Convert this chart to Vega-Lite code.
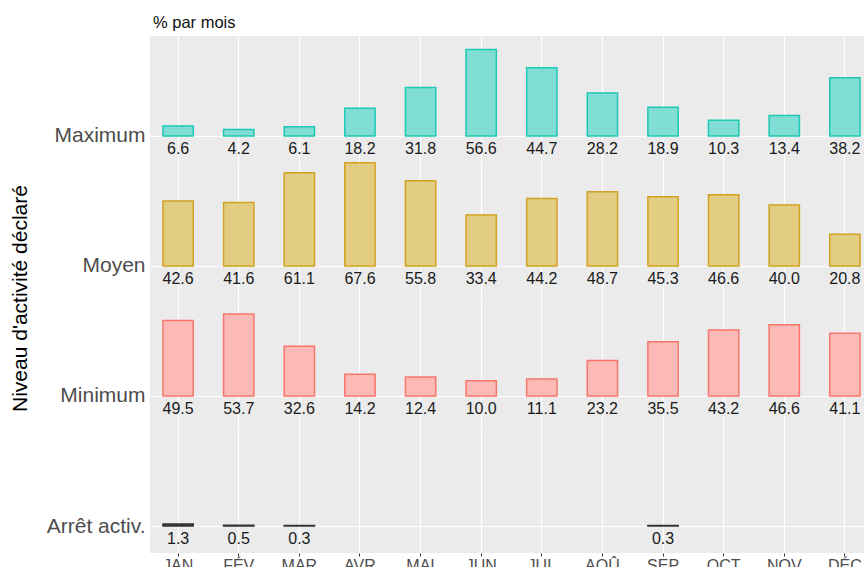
{
  "$schema": "https://vega.github.io/schema/vega-lite/v6.json",
  "padding": {"left": 9, "top": 14, "right": 0, "bottom": 0},
  "background": "white",
  "config": {
    "font": "Liberation Sans",
    "view": {"fill": "#EBEBEB", "stroke": null},
    "axis": {"labelFont": "Liberation Sans", "titleFont": "Liberation Sans"}
  },
  "datasets": {
    "d": [
      {"month": "JAN", "level": "Maximum", "value": 6.6},
      {"month": "FÉV", "level": "Maximum", "value": 4.2},
      {"month": "MAR", "level": "Maximum", "value": 6.1},
      {"month": "AVR", "level": "Maximum", "value": 18.2},
      {"month": "MAI", "level": "Maximum", "value": 31.8},
      {"month": "JUN", "level": "Maximum", "value": 56.6},
      {"month": "JUL", "level": "Maximum", "value": 44.7},
      {"month": "AOÛ", "level": "Maximum", "value": 28.2},
      {"month": "SEP", "level": "Maximum", "value": 18.9},
      {"month": "OCT", "level": "Maximum", "value": 10.3},
      {"month": "NOV", "level": "Maximum", "value": 13.4},
      {"month": "DÉC", "level": "Maximum", "value": 38.2},
      {"month": "JAN", "level": "Moyen", "value": 42.6},
      {"month": "FÉV", "level": "Moyen", "value": 41.6},
      {"month": "MAR", "level": "Moyen", "value": 61.1},
      {"month": "AVR", "level": "Moyen", "value": 67.6},
      {"month": "MAI", "level": "Moyen", "value": 55.8},
      {"month": "JUN", "level": "Moyen", "value": 33.4},
      {"month": "JUL", "level": "Moyen", "value": 44.2},
      {"month": "AOÛ", "level": "Moyen", "value": 48.7},
      {"month": "SEP", "level": "Moyen", "value": 45.3},
      {"month": "OCT", "level": "Moyen", "value": 46.6},
      {"month": "NOV", "level": "Moyen", "value": 40.0},
      {"month": "DÉC", "level": "Moyen", "value": 20.8},
      {"month": "JAN", "level": "Minimum", "value": 49.5},
      {"month": "FÉV", "level": "Minimum", "value": 53.7},
      {"month": "MAR", "level": "Minimum", "value": 32.6},
      {"month": "AVR", "level": "Minimum", "value": 14.2},
      {"month": "MAI", "level": "Minimum", "value": 12.4},
      {"month": "JUN", "level": "Minimum", "value": 10.0},
      {"month": "JUL", "level": "Minimum", "value": 11.1},
      {"month": "AOÛ", "level": "Minimum", "value": 23.2},
      {"month": "SEP", "level": "Minimum", "value": 35.5},
      {"month": "OCT", "level": "Minimum", "value": 43.2},
      {"month": "NOV", "level": "Minimum", "value": 46.6},
      {"month": "DÉC", "level": "Minimum", "value": 41.1},
      {"month": "JAN", "level": "Arrêt activ.", "value": 1.3},
      {"month": "FÉV", "level": "Arrêt activ.", "value": 0.5},
      {"month": "MAR", "level": "Arrêt activ.", "value": 0.3},
      {"month": "SEP", "level": "Arrêt activ.", "value": 0.3}
    ]
  },
  "data": {"name": "d"},
  "spacing": 0,
  "bounds": "flush",
  "vconcat": [
    {
      "width": 723,
      "height": 130,
      "title": {"text": "% par mois", "anchor": "start", "frame": "group", "fontSize": 16.5, "fontWeight": "normal", "color": "#111", "offset": 5, "dx": 3},
      "transform": [{"filter": "datum.level === 'Maximum'"}],
      "encoding": {
        "x": {"field": "month", "type": "ordinal", "sort": ["JAN","FÉV","MAR","AVR","MAI","JUN","JUL","AOÛ","SEP","OCT","NOV","DÉC"],
              "scale": {"domain": ["JAN","FÉV","MAR","AVR","MAI","JUN","JUL","AOÛ","SEP","OCT","NOV","DÉC"], "paddingInner": 0.5, "paddingOuter": 0.214},
              "axis": {"title": null, "labels": false, "ticks": false, "domain": false, "grid": true, "gridColor": "white", "gridWidth": 1.2}}
      },
      "layer": [
        {
          "mark": {"type": "bar", "fill": "#80DED5", "stroke": "#1DC9B4", "strokeWidth": 1.5},
          "encoding": {
            "y": {"field": "value", "type": "quantitative", "scale": {"domain": [-19.65, 65.49], "nice": false, "zero": false},
                  "axis": {"values": [0], "labelExpr": "'Maximum'", "title": null, "domain": false, "ticks": false, "grid": true, "gridColor": "white", "gridWidth": 1.2, "labelFontSize": 21, "labelColor": "#4D4D4D", "labelPadding": 5}},
            "y2": {"datum": 0}
          }
        },
        {
          "mark": {"type": "text", "baseline": "alphabetic", "dy": 18, "fontSize": 16, "color": "#1A1A1A"},
          "encoding": {"y": {"datum": 0}, "text": {"field": "value", "type": "quantitative", "format": ".1f"}}
        }
      ]
    },
    {
      "width": 723,
      "height": 130,
      "transform": [{"filter": "datum.level === 'Moyen'"}],
      "encoding": {
        "x": {"field": "month", "type": "ordinal", "sort": ["JAN","FÉV","MAR","AVR","MAI","JUN","JUL","AOÛ","SEP","OCT","NOV","DÉC"],
              "scale": {"domain": ["JAN","FÉV","MAR","AVR","MAI","JUN","JUL","AOÛ","SEP","OCT","NOV","DÉC"], "paddingInner": 0.5, "paddingOuter": 0.214},
              "axis": {"title": null, "labels": false, "ticks": false, "domain": false, "grid": true, "gridColor": "white", "gridWidth": 1.2}}
      },
      "layer": [
        {
          "mark": {"type": "bar", "fill": "#E3CD82", "stroke": "#D1A321", "strokeWidth": 1.5},
          "encoding": {
            "y": {"field": "value", "type": "quantitative", "scale": {"domain": [-19.65, 65.49], "nice": false, "zero": false},
                  "axis": {"values": [0], "labelExpr": "'Moyen'", "domain": false, "ticks": false, "grid": true, "gridColor": "white", "gridWidth": 1.2, "labelFontSize": 21, "labelColor": "#4D4D4D", "labelPadding": 5,
                           "title": "Niveau d'activité déclaré", "titleFontSize": 21, "titleFontWeight": "normal", "titleColor": "#000", "titleAngle": 270, "titleAlign": "center", "titleBaseline": "middle", "titleX": -129.5, "titleY": 132}},
            "y2": {"datum": 0}
          }
        },
        {
          "mark": {"type": "text", "baseline": "alphabetic", "dy": 18, "fontSize": 16, "color": "#1A1A1A"},
          "encoding": {"y": {"datum": 0}, "text": {"field": "value", "type": "quantitative", "format": ".1f"}}
        }
      ]
    },
    {
      "width": 723,
      "height": 130,
      "transform": [{"filter": "datum.level === 'Minimum'"}],
      "encoding": {
        "x": {"field": "month", "type": "ordinal", "sort": ["JAN","FÉV","MAR","AVR","MAI","JUN","JUL","AOÛ","SEP","OCT","NOV","DÉC"],
              "scale": {"domain": ["JAN","FÉV","MAR","AVR","MAI","JUN","JUL","AOÛ","SEP","OCT","NOV","DÉC"], "paddingInner": 0.5, "paddingOuter": 0.214},
              "axis": {"title": null, "labels": false, "ticks": false, "domain": false, "grid": true, "gridColor": "white", "gridWidth": 1.2}}
      },
      "layer": [
        {
          "mark": {"type": "bar", "fill": "#FBBAB6", "stroke": "#F8766D", "strokeWidth": 1.5},
          "encoding": {
            "y": {"field": "value", "type": "quantitative", "scale": {"domain": [-19.65, 65.49], "nice": false, "zero": false},
                  "axis": {"values": [0], "labelExpr": "'Minimum'", "title": null, "domain": false, "ticks": false, "grid": true, "gridColor": "white", "gridWidth": 1.2, "labelFontSize": 21, "labelColor": "#4D4D4D", "labelPadding": 5}},
            "y2": {"datum": 0}
          }
        },
        {
          "mark": {"type": "text", "baseline": "alphabetic", "dy": 18, "fontSize": 16, "color": "#1A1A1A"},
          "encoding": {"y": {"datum": 0}, "text": {"field": "value", "type": "quantitative", "format": ".1f"}}
        }
      ]
    },
    {
      "width": 723,
      "height": 127,
      "transform": [{"filter": "datum.level === 'Arrêt activ.'"}],
      "encoding": {
        "x": {"field": "month", "type": "ordinal", "sort": ["JAN","FÉV","MAR","AVR","MAI","JUN","JUL","AOÛ","SEP","OCT","NOV","DÉC"],
              "scale": {"domain": ["JAN","FÉV","MAR","AVR","MAI","JUN","JUL","AOÛ","SEP","OCT","NOV","DÉC"], "paddingInner": 0.5, "paddingOuter": 0.214},
              "axis": {"title": null, "labels": true, "labelAngle": 0, "labelFontSize": 16, "labelColor": "#4D4D4D", "labelPadding": 1, "ticks": true, "tickSize": 3, "tickColor": "#333", "domain": false, "grid": true, "gridColor": "white", "gridWidth": 1.2}}
      },
      "layer": [
        {
          "mark": {"type": "bar", "fill": "#333333", "stroke": "#333333", "strokeWidth": 1.5},
          "encoding": {
            "y": {"field": "value", "type": "quantitative", "scale": {"domain": [-17.68, 65.49], "nice": false, "zero": false},
                  "axis": {"values": [0], "labelExpr": "'Arrêt activ.'", "title": null, "domain": false, "ticks": false, "grid": true, "gridColor": "white", "gridWidth": 1.2, "labelFontSize": 21, "labelColor": "#4D4D4D", "labelPadding": 5}},
            "y2": {"datum": 0}
          }
        },
        {
          "mark": {"type": "text", "baseline": "alphabetic", "dy": 18, "fontSize": 16, "color": "#1A1A1A"},
          "encoding": {"y": {"datum": 0}, "text": {"field": "value", "type": "quantitative", "format": ".1f"}}
        }
      ]
    }
  ]
}
